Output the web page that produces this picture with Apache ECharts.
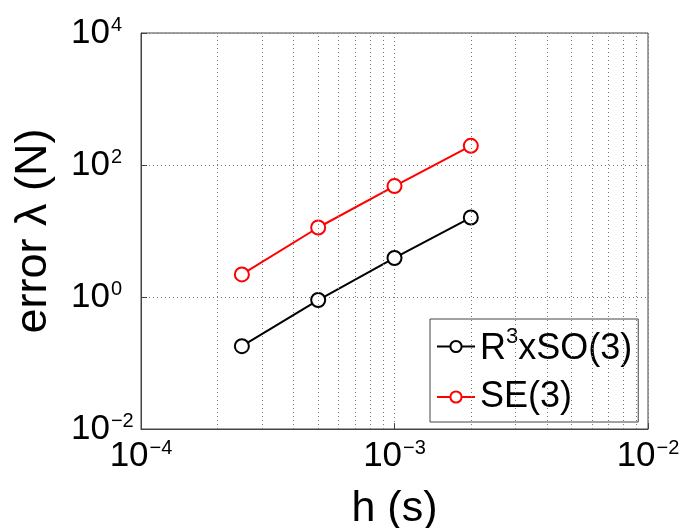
<!DOCTYPE html>
<html>
<head>
<meta charset="utf-8">
<script src="https://cdn.jsdelivr.net/npm/echarts@6/dist/echarts.min.js"></script>
<style>
  html, body { margin: 0; padding: 0; background: #fff; }
  #chart { width: 686px; height: 528px; }
</style>
</head>
<body>
<div id="chart"></div>
<script>
// step size h (s)
const hValues = [2.5e-4, 5e-4, 1e-3, 2e-3]
// errors per formulation
const errR3SO3 = [0.18, 0.9, 3.9, 16]
const errSE3 = [2.2, 11.3, 48, 195]
// dotted minor grid on x (log axis)
const minorX = [2e-4, 3e-4, 4e-4, 5e-4, 6e-4, 7e-4, 8e-4, 9e-4,
  2e-3, 3e-3, 4e-3, 5e-3, 6e-3, 7e-3, 8e-3, 9e-3]
const yMin = 1e-2
const yMax = 1e4

const FONT = 'Liberation Sans, Arial, sans-serif'

function pow10Label(v) {
  const e = Math.round(Math.log10(v))
  return '{b|10}{e|' + (e < 0 ? '\u2212' + (-e) : e) + '}'
}

// "10" centred on the tick, exponent raised above it
const tickRich = {
  b: { fontSize: 35, lineHeight: 36, fontFamily: FONT, color: '#000', verticalAlign: 'middle', padding: [9, 0, 9, 0] },
  e: { fontSize: 20, lineHeight: 22, fontFamily: FONT, color: '#000', verticalAlign: 'top', padding: [0, 0, 0, 1] }
}

const gridLine = { type: [1, 3], color: '#777', width: 1 }

let myChart = echarts.init(document.getElementById('chart'))
const options = {
  animation: false,
  backgroundColor: '#fff',
  grid: {
    left: 141, right: 38, top: 33, bottom: 99,
    show: true, borderColor: '#444', borderWidth: 1,
    outerBoundsMode: 'none'
  },
  xAxis: {
    type: 'log',
    logBase: 10,
    min: 1e-4,
    max: 1e-2,
    name: 'h (s)',
    nameLocation: 'middle',
    nameGap: 50,
    nameTextStyle: { fontSize: 43, fontFamily: FONT, color: '#000' },
    axisLine: { lineStyle: { color: '#444' } },
    axisTick: { inside: true, length: 6, lineStyle: { color: '#444' } },
    axisLabel: { formatter: pow10Label, rich: tickRich, margin: 9, showMinLabel: true, showMaxLabel: true },
    splitLine: { show: true, lineStyle: gridLine }
  },
  yAxis: {
    type: 'log',
    logBase: 10,
    min: yMin,
    max: yMax,
    interval: 2,
    name: 'error \u03bb (N)',
    nameLocation: 'middle',
    nameGap: 85,
    nameTextStyle: { fontSize: 45, fontFamily: FONT, color: '#000' },
    axisLine: { show: true, lineStyle: { color: '#444' } },
    axisTick: { show: true, inside: true, length: 6, lineStyle: { color: '#444' } },
    axisLabel: { formatter: pow10Label, rich: tickRich, align: 'left', margin: 70, showMinLabel: true, showMaxLabel: true },
    splitLine: { show: true, lineStyle: gridLine }
  },
  legend: {
    data: ['R3xSO(3)', 'SE(3)'],
    orient: 'vertical',
    left: 430,
    top: 319,
    padding: [7, 6, 7, 6],
    itemGap: 12,
    itemWidth: 38,
    itemHeight: 14,
    backgroundColor: '#fff',
    borderColor: '#444',
    borderWidth: 1,
    formatter: function (name) {
      return name === 'R3xSO(3)' ? '{b|R}{e|3}{b|xSO(3)}' : '{b|SE(3)}'
    },
    textStyle: {
      rich: {
        b: { fontSize: 36, fontFamily: FONT, color: '#000', verticalAlign: 'bottom' },
        e: { fontSize: 22, fontFamily: FONT, color: '#000', verticalAlign: 'bottom', padding: [0, 0, 19, 0] }
      }
    }
  },
  series: [
    {
      name: 'R3xSO(3)',
      type: 'line',
      data: hValues.map((h, i) => [h, errR3SO3[i]]),
      symbol: 'emptyCircle',
      symbolSize: 14,
      color: '#000',
      lineStyle: { width: 2, color: '#000' },
      itemStyle: { color: '#000', borderWidth: 2 },
      z: 3,
      markLine: {
        silent: true,
        symbol: 'none',
        label: { show: false },
        lineStyle: gridLine,
        animation: false,
        data: minorX.map(v => [{ coord: [v, yMin] }, { coord: [v, yMax] }])
      }
    },
    {
      name: 'SE(3)',
      type: 'line',
      data: hValues.map((h, i) => [h, errSE3[i]]),
      symbol: 'emptyCircle',
      symbolSize: 14,
      color: '#ff0000',
      lineStyle: { width: 2, color: '#ff0000' },
      itemStyle: { color: '#ff0000', borderWidth: 2 },
      z: 3
    }
  ]
}
options && myChart.setOption(options)
</script>
</body>
</html>
